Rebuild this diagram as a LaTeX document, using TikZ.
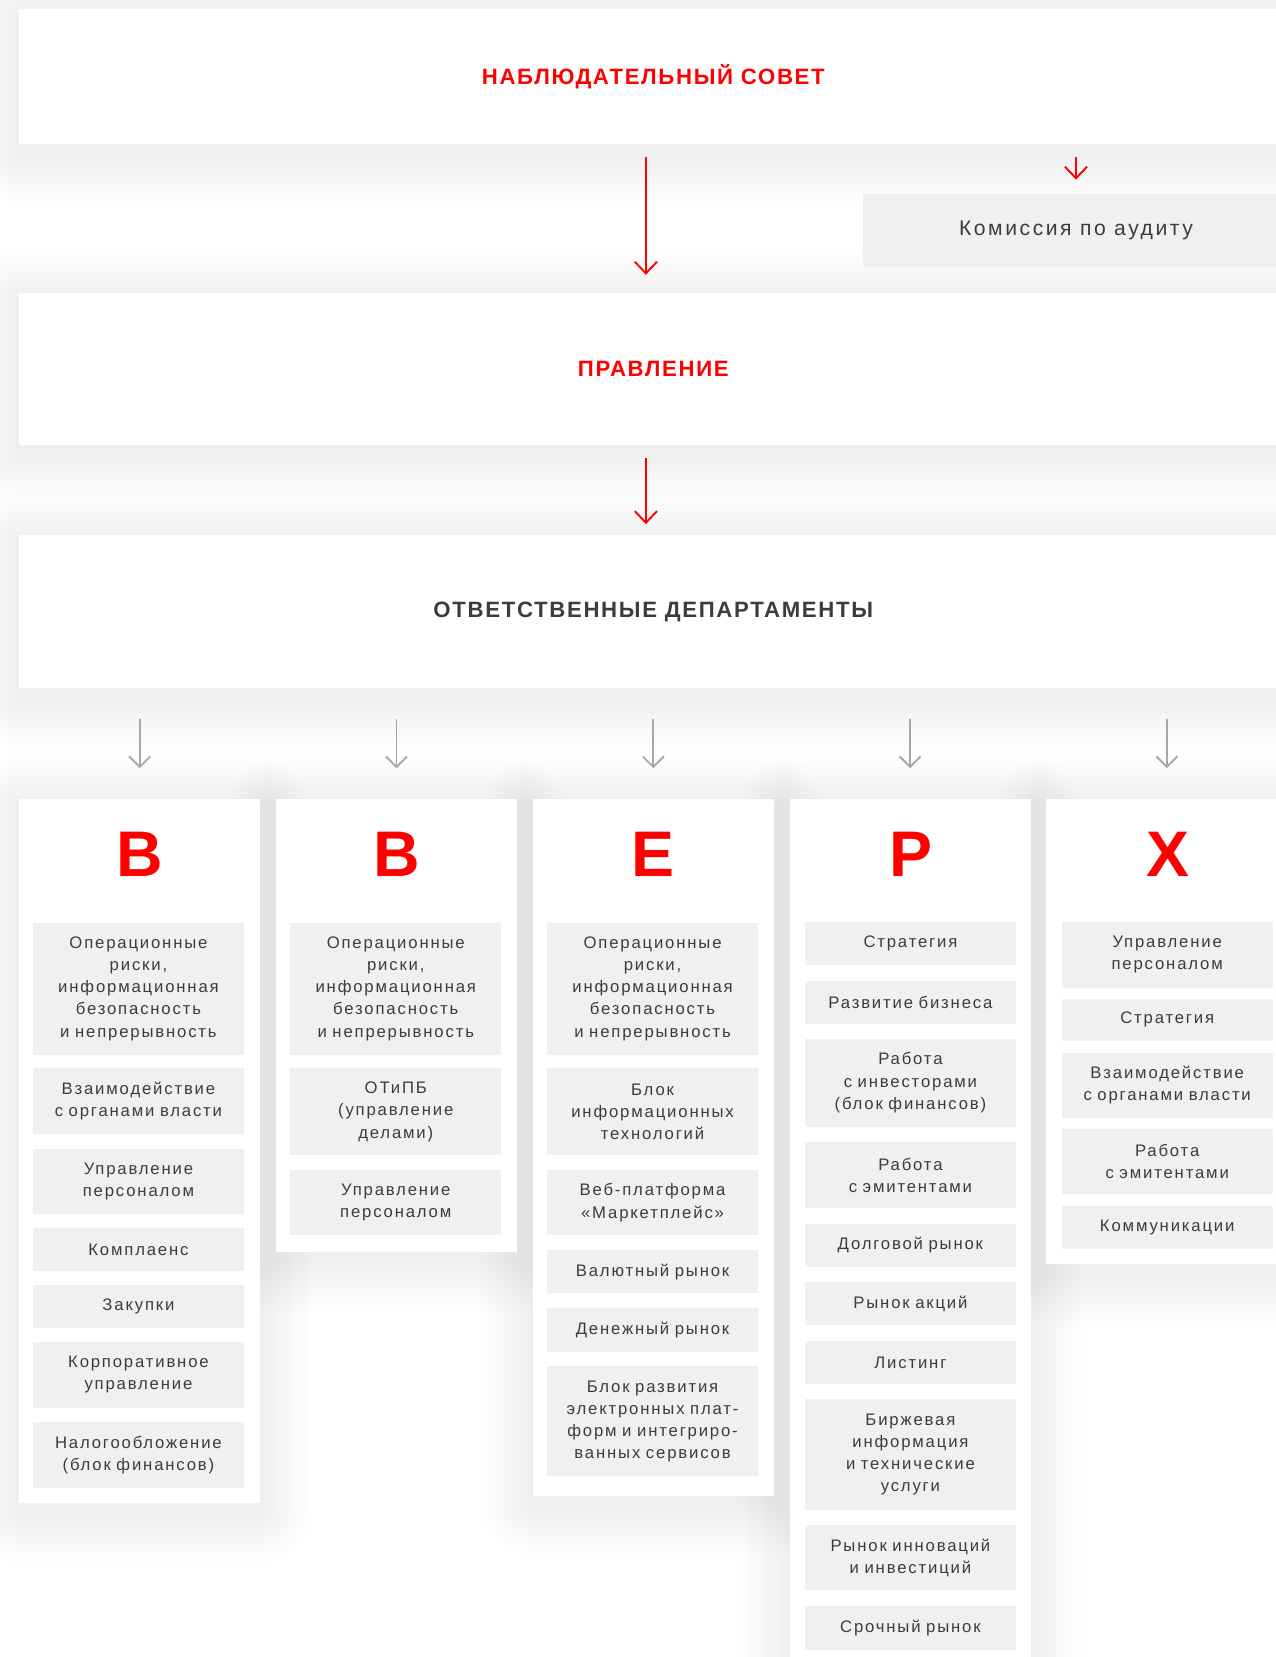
\documentclass[tikz,border=0pt]{standalone}
\usepackage{fontspec}
\setmainfont{Liberation Sans}
\newfontfamily\itemfont[LetterSpace=11]{Liberation Sans}
\newfontfamily\komfont[LetterSpace=12]{Liberation Sans}
\newfontfamily\titlefont[LetterSpace=7.5]{Liberation Sans}
\usetikzlibrary{arrows.meta}
\definecolor{brandred}{HTML}{FF0000}
\definecolor{txt}{HTML}{3C3C3C}
\definecolor{itemfill}{HTML}{F0F0F0}
\definecolor{arrgray}{HTML}{A8A8A8}
\pgfdeclarelayer{shadowlayer}
\pgfsetlayers{shadowlayer,main}
\newcommand\softshadowfor[1]{%
  \begin{pgfonlayer}{shadowlayer}
  \foreach \k [evaluate=\k as \r using 3*\k] in {1,...,16}{
    \fill[black, opacity=0.0045, rounded corners=\r pt]
      ([shift={(-\r,-\r+8)}]#1.north west) rectangle ([shift={(\r,\r+8)}]#1.south east);
  }
  \end{pgfonlayer}}
\begin{document}
\begin{tikzpicture}[x=1pt,y=-1pt,
  panel/.style={fill=white, minimum width=1200pt, anchor=north west, inner sep=0pt},
  paneltitle/.style={font=\titlefont\fontsize{21}{24}\selectfont\bfseries},
  column/.style={fill=white, minimum width=228pt, anchor=north west, inner sep=0pt},
  letter/.style={font=\fontsize{61}{61}\selectfont\bfseries, text=brandred, inner sep=0pt},
  item/.style={fill=itemfill, minimum width=200pt, text width=198pt, align=center, inner sep=0pt,
    font=\itemfont\fontsize{15.8}{21}\selectfont, text=txt},
  redarrow/.style={draw=brandred, line width=1.8pt, -{Straight Barb[length=11pt, width=21pt, line width=1.8pt]}},
  grayarrow/.style={draw=arrgray, line width=1.8pt, -{Straight Barb[length=10pt, width=20pt, line width=1.8pt]}}
]
\useasboundingbox (0,0) rectangle (1207,1568);
\begin{pgfonlayer}{shadowlayer}
\fill[white] (0,0) rectangle (1207,1568);
\end{pgfonlayer}

% top panels
\node[panel, minimum height=128pt, paneltitle, text=brandred] (ns) at (18,8) {НАБЛЮДАТЕЛЬНЫЙ СОВЕТ};
\node[fill=itemfill, minimum width=404pt, minimum height=69pt, inner sep=0pt, anchor=north west,
      font=\komfont\fontsize{20}{24}\selectfont, text=txt] (kom) at (816,183) {Комиссия по аудиту};
\node[panel, minimum height=144pt, paneltitle, text=brandred] (pr) at (18,277) {ПРАВЛЕНИЕ};
\node[panel, minimum height=145pt, paneltitle, text=txt] (od) at (18,506) {ОТВЕТСТВЕННЫЕ ДЕПАРТАМЕНТЫ};
\softshadowfor{ns}
\softshadowfor{pr}
\softshadowfor{od}

% columns
\node[column, minimum height=666pt] (col1) at (18,756) {};
\node[column, minimum height=429pt] (col2) at (261,756) {};
\node[column, minimum height=659pt] (col3) at (504,756) {};
\node[column, minimum height=840pt] (col4) at (747,756) {};
\node[column, minimum height=440pt] (col5) at (990,756) {};
\softshadowfor{col1}
\softshadowfor{col2}
\softshadowfor{col3}
\softshadowfor{col4}
\softshadowfor{col5}

\node[letter] (l1) at (132,808) {В};
\node[letter] (l2) at (375,808) {В};
\node[letter] (l3) at (618,808) {Е};
\node[letter] (l4) at (862,808) {Р};
\node[letter] (l5) at (1105,808) {Х};

% connectors
\draw[redarrow, shorten <=12pt, shorten >=17pt] ([xshift=-7pt]ns.south) -- ([xshift=-7pt]pr.north);
\draw[redarrow, shorten <=12pt, shorten >=13pt] (ns.south -| kom.north) -- (kom.north);
\draw[redarrow, shorten <=12pt, shorten >=10pt] ([xshift=-7pt]pr.south) -- ([xshift=-7pt]od.north);
\foreach \c in {col1,col2,col3,col4,col5}{
  \draw[grayarrow, shorten <=29pt, shorten >=29pt] (od.south -| \c.north) -- (\c.north);
}

% column 1
\node[item, minimum height=125pt] (c1a) at (131,935.5) {Операционные\\риски,\\информационная\\безопасность\\и непрерывность};
\node[item, minimum height=62pt] (c1b) at (131,1042) {Взаимодействие\\с органами власти};
\node[item, minimum height=62pt] (c1c) at (131,1118) {Управление\\персоналом};
\node[item, minimum height=41pt] (c1d) at (131,1182.5) {Комплаенс};
\node[item, minimum height=41pt] (c1e) at (131,1236.5) {Закупки};
\node[item, minimum height=62pt] (c1f) at (131,1301) {Корпоративное\\управление};
\node[item, minimum height=62pt] (c1g) at (131,1377) {Налогообложение\\(блок финансов)};

% column 2
\node[item, minimum height=125pt] (c2a) at (374.5,935.5) {Операционные\\риски,\\информационная\\безопасность\\и непрерывность};
\node[item, minimum height=82pt] (c2b) at (374.5,1052) {ОТиПБ\\(управление\\делами)};
\node[item, minimum height=62pt] (c2c) at (374.5,1138) {Управление\\персоналом};

% column 3
\node[item, minimum height=125pt] (c3a) at (617.5,935.5) {Операционные\\риски,\\информационная\\безопасность\\и непрерывность};
\node[item, minimum height=82pt] (c3b) at (617.5,1052) {Блок\\информационных\\технологий};
\node[item, minimum height=62pt] (c3c) at (617.5,1138) {Веб-платформа\\«Маркетплейс»};
\node[item, minimum height=41pt] (c3d) at (617.5,1203.5) {Валютный рынок};
\node[item, minimum height=41pt] (c3e) at (617.5,1258.5) {Денежный рынок};
\node[item, minimum height=104pt] (c3f) at (617.5,1345) {Блок развития\\электронных плат-\\форм и интегриро-\\ванных сервисов};

% column 4
\node[item, minimum height=41pt] (c4a) at (861.5,892.5) {Стратегия};
\node[item, minimum height=41pt] (c4b) at (861.5,948.5) {Развитие бизнеса};
\node[item, minimum height=83pt] (c4c) at (861.5,1024.5) {Работа\\с инвесторами\\(блок финансов)};
\node[item, minimum height=62pt] (c4d) at (861.5,1112) {Работа\\с эмитентами};
\node[item, minimum height=41pt] (c4e) at (861.5,1178.5) {Долговой рынок};
\node[item, minimum height=41pt] (c4f) at (861.5,1233.5) {Рынок акций};
\node[item, minimum height=41pt] (c4g) at (861.5,1289.5) {Листинг};
\node[item, minimum height=105pt] (c4h) at (861.5,1376.5) {Биржевая\\информация\\и технические\\услуги};
\node[item, minimum height=62pt] (c4i) at (861.5,1474) {Рынок инноваций\\и инвестиций};
\node[item, minimum height=41pt] (c4j) at (861.5,1540.5) {Срочный рынок};

% column 5
\node[item, minimum height=63pt] (c5a) at (1104.5,903.5) {Управление\\персоналом};
\node[item, minimum height=40pt] (c5b) at (1104.5,965) {Стратегия};
\node[item, minimum height=62pt] (c5c) at (1104.5,1027) {Взаимодействие\\с органами власти};
\node[item, minimum height=62pt] (c5d) at (1104.5,1099) {Работа\\с эмитентами};
\node[item, minimum height=41pt] (c5e) at (1104.5,1161.5) {Коммуникации};
\end{tikzpicture}
\end{document}
